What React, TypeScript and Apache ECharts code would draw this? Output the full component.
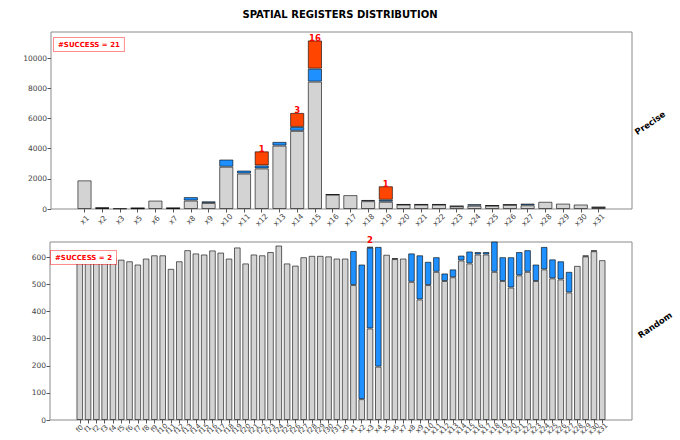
import React, { useEffect, useRef } from "react";
import * as echarts from "echarts";

// ---------- Data ----------
const preciseCats = ["x1","x2","x3","x5","x6","x7","x8","x9","x10","x11","x12","x13","x14","x15","x16","x17","x18","x19","x20","x21","x22","x23","x24","x25","x26","x27","x28","x29","x30","x31"];
const preciseBase = [1900, 60, 40, 50, 560, 55, 560, 400, 2800, 2350, 2690, 4200, 5180, 8440, 950, 920, 520, 480, 290, 290, 290, 180, 220, 220, 280, 250, 480, 360, 300, 110];
const preciseBlue = [null, 40, null, 20, null, 20, 230, 110, 480, 200, 200, 250, 260, 860, 20, null, 80, 130, 20, 20, 20, 20, 100, 20, 15, 110, null, null, null, 20];
const preciseOrange = [null, null, null, null, null, null, null, null, null, null, 930, null, 930, 1870, null, null, null, 900, null, null, null, null, null, null, null, null, null, null, null, null];
const preciseSuccess = [0, 0, 0, 0, 0, 0, 0, 0, 0, 0, 1, 0, 3, 16, 0, 0, 0, 1, 0, 0, 0, 0, 0, 0, 0, 0, 0, 0, 0, 0];
const preciseYTicks = [0, 2000, 4000, 6000, 8000, 10000];

const randomCats = [
  "f0","f1","f2","f3","f4","f5","f6","f7","f8","f9","f10","f11","f12","f13","f14","f15",
  "f16","f17","f18","f19","f20","f21","f22","f23","f24","f25","f26","f27","f28","f29","f30","f31",
  "x0","x1","x2","x3","x4","x5","x6","x7","x8","x9","x10","x11","x12","x13","x14","x15",
  "x16","x17","x18","x19","x20","x21","x22","x23","x24","x25","x26","x27","x28","x29","x30","x31",
];
const randomBase = [
  590, 595, 600, 598, 600, 592, 586, 574, 596, 608, 608, 558, 586, 627, 615, 611,
  626, 618, 596, 637, 578, 611, 608, 620, 644, 578, 570, 601, 606, 606, 604, 596,
  596, 498, 77, 338, 197, 610, 594, 596, 510, 445, 498, 547, 513, 527, 589, 578,
  611, 611, 547, 513, 489, 534, 547, 513, 556, 523, 519, 471, 569, 604, 623, 590,
];
const randomBlue = [
  null, null, null, null, null, null, null, null, null, null, null, null, null, null, null, null,
  null, null, null, null, null, null, null, null, null, null, null, null, null, null, null, null,
  null, 126, 497, 298, 442, null, 3, null, 105, 163, 86, 54, 28, 29, 18, 44,
  9, 9, 121, 88, 112, 86, 80, 61, 83, 70, 67, 76, null, 3, 3, null,
];
const randomOrange = randomCats.map((c) => (c === "x3" ? 3 : null));
const randomSuccess = randomCats.map((c) => (c === "x3" ? 2 : 0));
const randomYTicks = [0, 100, 200, 300, 400, 500, 600];

const FONT = '"DejaVu Sans", sans-serif';

// matplotlib-like x margins: frame rect -> inner category band rect
function innerRect(frame: { left: number; top: number; width: number; height: number }, n: number) {
  const p = frame.width / (1.1 * (n - 0.2));
  const firstCenter = frame.left + (0.4 + 0.05 * (n - 0.2)) * p;
  return { left: firstCenter - p / 2, top: frame.top, width: n * p, height: frame.height };
}

export default function App() {
  const ref = useRef<HTMLDivElement>(null);

  useEffect(() => {
    if (!ref.current) return;
    const chart = echarts.init(ref.current, undefined, { renderer: "svg" });

    const f0 = { left: 51, top: 32, width: 581, height: 177 };
    const f1 = { left: 50, top: 242, width: 582, height: 178 };
    const b0 = innerRect(f0, preciseCats.length);
    const b1 = innerRect(f1, randomCats.length);
    const yMax0 = 11730;
    const yMax1 = 657;

    const edge = { borderColor: "rgba(0,0,0,0.6)", borderWidth: 1 };

    const mk = (
      ai: number,
      base: (number | null)[],
      blue: (number | null)[],
      orange: (number | null)[],
      success: number[],
      dist: number
    ) => {
      const pts = (arr: (number | null)[]) => arr.map((v) => (v == null ? "-" : v));
      const common = {
        type: "bar",
        xAxisIndex: ai,
        yAxisIndex: ai,
        stack: "s" + ai,
        barWidth: "80%",
      };
      return [
        { ...common, data: pts(base), itemStyle: { ...edge, color: "#d3d3d3" } },
        { ...common, data: pts(blue), itemStyle: { ...edge, color: "#1e90ff" } },
        {
          ...common,
          data: pts(orange),
          itemStyle: { ...edge, color: "#ff4500" },
          label: {
            show: true,
            position: "top",
            distance: dist,
            formatter: (p: any) => (success[p.dataIndex] ? String(success[p.dataIndex]) : ""),
            color: "#ff0000",
            fontWeight: "bold",
            fontSize: 8.5,
            fontFamily: FONT,
          },
        },
      ];
    };

    const hiddenX = (gi: number) => ({
      type: "value",
      gridIndex: gi,
      min: 0,
      max: 1,
      show: false,
    });
    const catX = (gi: number, cats: string[], fs: number, margin: number) => ({
      type: "category",
      gridIndex: gi,
      data: cats,
      boundaryGap: true,
      axisLine: { show: false, onZero: false },
      splitLine: { show: false },
      axisTick: { show: true, alignWithLabel: true, interval: 0, length: 3.5, lineStyle: { color: "#555" } },
      axisLabel: {
        interval: 0,
        rotate: 45,
        align: "center",
        verticalAlign: "middle",
        margin,
        fontSize: fs,
        color: "#444",
        fontFamily: FONT,
      },
    });
    const labY = (gi: number, max: number, ticks: number[]) => ({
      type: "value",
      gridIndex: gi,
      min: 0,
      max,
      axisLine: { show: false, onZero: false },
      splitLine: { show: false },
      axisTick: { show: true, customValues: ticks, length: 3.5, lineStyle: { color: "#555" } },
      axisLabel: {
        customValues: ticks,
        formatter: (v: number) => String(v),
        fontSize: 7.5,
        color: "#444",
        fontFamily: FONT,
        margin: 4,
      },
    });
    const hidY = (gi: number, max: number) => ({
      type: "value",
      gridIndex: gi,
      min: 0,
      max,
      show: false,
      axisLine: { onZero: false },
    });

    chart.setOption({
      animation: false,
      backgroundColor: "#fff",
      title: {
        text: "SPATIAL REGISTERS DISTRIBUTION",
        left: "center",
        top: 4,
        textStyle: { fontSize: 10, fontWeight: "bold", color: "#000", fontFamily: FONT },
      },
      grid: [
        { ...f0, show: true, borderColor: "#8a8a8a", borderWidth: 1, backgroundColor: "transparent" },
        { ...b0 },
        { ...f1, show: true, borderColor: "#8a8a8a", borderWidth: 1, backgroundColor: "transparent" },
        { ...b1 },
      ],
      xAxis: [
        hiddenX(0),
        catX(1, preciseCats, 7.5, 11),
        hiddenX(2),
        catX(3, randomCats, 7, 9),
      ],
      yAxis: [labY(0, yMax0, preciseYTicks), hidY(1, yMax0), labY(2, yMax1, randomYTicks), hidY(3, yMax1)],
      series: [
        ...mk(1, preciseBase, preciseBlue, preciseOrange, preciseSuccess, -2),
        ...mk(3, randomBase, randomBlue, randomOrange, randomSuccess, 2),
      ],
      graphic: [
        {
          type: "text",
          x: 54,
          y: 38,
          z: 100,
          style: {
            text: "#SUCCESS = 21",
            fill: "#ff0000",
            font: 'bold 7px "DejaVu Sans"',
            backgroundColor: "#fff",
            borderColor: "rgba(255,0,0,0.45)",
            borderWidth: 1,
            padding: [3, 4, 3, 4],
          },
        },
        {
          type: "text",
          x: 51,
          y: 251,
          z: 100,
          style: {
            text: "#SUCCESS = 2",
            fill: "#ff0000",
            font: 'bold 7px "DejaVu Sans"',
            backgroundColor: "#fff",
            borderColor: "rgba(255,0,0,0.45)",
            borderWidth: 1,
            padding: [3, 4, 3, 4],
          },
        },
        {
          type: "text",
          x: 650,
          y: 123,
          rotation: 0.6,
          z: 100,
          style: { text: "Precise", fill: "#000", font: 'bold 8.5px "DejaVu Sans"', align: "center", verticalAlign: "middle" },
        },
        {
          type: "text",
          x: 655,
          y: 325,
          rotation: 0.6,
          z: 100,
          style: { text: "Random", fill: "#000", font: 'bold 8.5px "DejaVu Sans"', align: "center", verticalAlign: "middle" },
        },
      ],
    });

    return () => chart.dispose();
  }, []);

  return (
    <div
      ref={ref}
      style={{ position: "fixed", left: 0, top: 0, width: 680, height: 440, background: "#fff" }}
    />
  );
}
